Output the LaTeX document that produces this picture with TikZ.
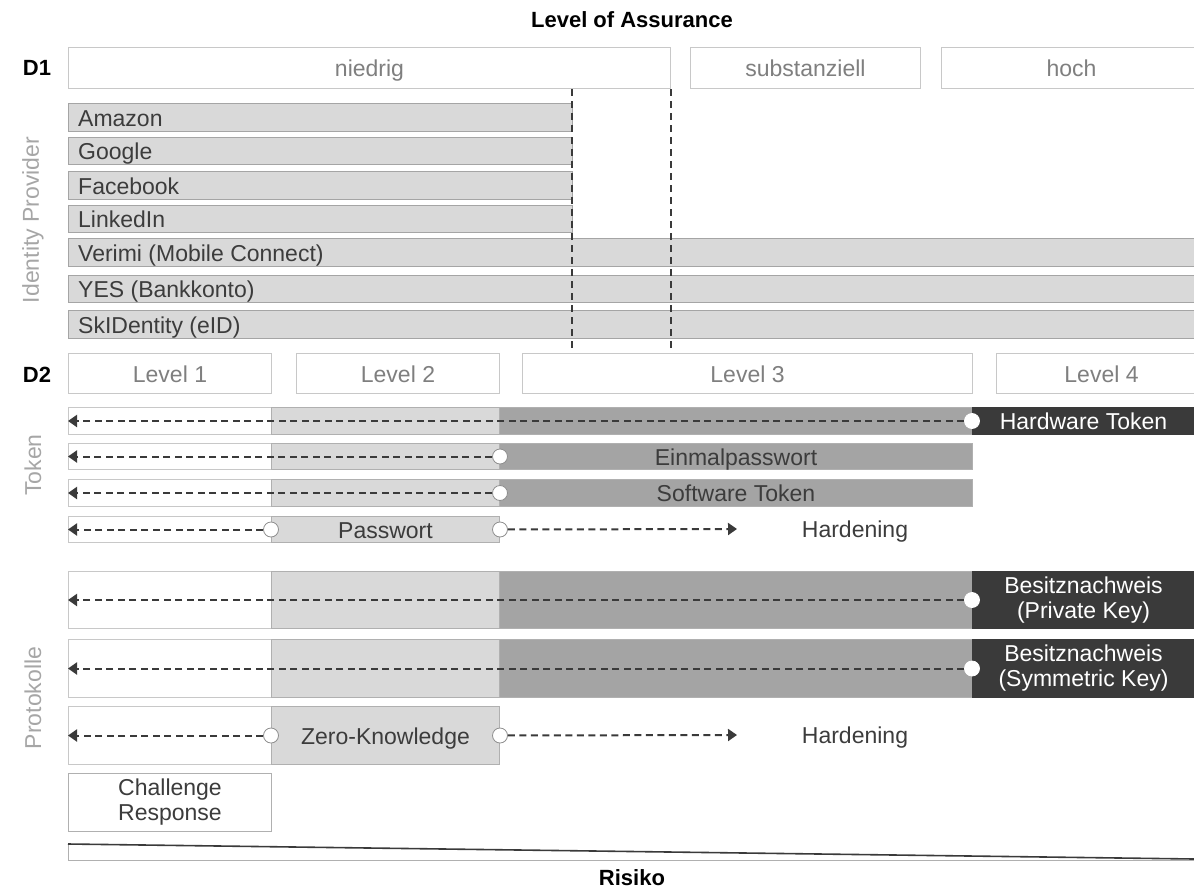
\documentclass[tikz,border=0pt]{standalone}
\usepackage{fontspec}
\setmainfont{Liberation Sans}
\usetikzlibrary{arrows.meta}
\definecolor{lg}{HTML}{D9D9D9}
\definecolor{mg}{HTML}{A4A4A4}
\definecolor{dg}{HTML}{3A3A3A}
\definecolor{bord}{HTML}{C8C8C8}
\definecolor{edgec}{HTML}{8E8E8E}
\definecolor{txtg}{HTML}{7F7F7F}
\definecolor{txtd}{HTML}{3C3C3C}
\definecolor{lab}{HTML}{A6A6A6}
\definecolor{dashc}{HTML}{3A3A3A}
\tikzset{
  x=1pt, y=-1pt,
  fnt/.style={font=\fontsize{23}{25}\selectfont, text height=17pt, text depth=0pt},
  bfnt/.style={font=\fontsize{22}{24}\selectfont\bfseries},
  hdr/.style={draw=bord, line width=1pt, fill=white, text=txtg, fnt, anchor=north west, inner sep=0, minimum height=41},
  idrow/.style={draw=edgec!80, line width=1pt, fill=lg, anchor=north west, inner sep=0, minimum height=28},
  idtext/.style={text=txtd, fnt, anchor=west, inner sep=0},
  seg/.style={draw=edgec!70, line width=1pt, anchor=north west, inner sep=0, text=txtd, fnt},
  segw/.style={seg, draw=bord, fill=white},
  segl/.style={seg, fill=lg},
  segm/.style={seg, fill=mg},
  segd/.style={seg, draw=dg, fill=dg, text=white, align=center, text height=, text depth=},
  dot/.style={circle, draw=edgec, fill=white, line width=0.8pt, minimum size=15, inner sep=0},
  darr/.style={dashc, line width=2pt, dash pattern=on 7pt off 4.5pt, -{Triangle[length=9pt,width=12pt]}},
  vdash/.style={dashc, line width=1.6pt, dash pattern=on 7pt off 5pt},
  sidelab/.style={rotate=90, text=lab, fnt, text height=, text depth=},
  plain/.style={text=txtd, fnt}
}
\begin{document}
\begin{tikzpicture}
\useasboundingbox (0,0) rectangle (1194,889);
% title
\node[bfnt] (title) at (632,20) {Level of Assurance};
% D1
\node[bfnt] (d1) at (37,68) {D1};
\node[hdr, minimum width=602] (niedrig) at (68,47) {niedrig};
\node[hdr, minimum width=230] (subst) at (690,47) {substanziell};
\node[hdr, minimum width=260] (hoch) at (941,47) {hoch};
% Identity provider
\node[sidelab] (idp) at (33,220) {Identity Provider};
\node[idrow, minimum width=504] (amazon) at (68,103) {};
\node[idtext] (amazonT) at ([xshift=10]amazon.west) {Amazon};
\node[idrow, minimum width=504, minimum height=27] (google) at (68,137) {};
\node[idtext] (googleT) at ([xshift=10]google.west) {Google};
\node[idrow, minimum width=504] (facebook) at (68,171) {};
\node[idtext] (facebookT) at ([xshift=10]facebook.west) {Facebook};
\node[idrow, minimum width=504, minimum height=27] (linkedin) at (68,205) {};
\node[idtext] (linkedinT) at ([xshift=10]linkedin.west) {LinkedIn};
\node[idrow, minimum width=1140] (verimi) at (68,238) {};
\node[idtext] (verimiT) at ([xshift=10]verimi.west) {Verimi (Mobile Connect)};
\node[idrow, minimum width=1140, minimum height=27] (yes) at (68,275) {};
\node[idtext] (yesT) at ([xshift=10]yes.west) {YES (Bankkonto)};
\node[idrow, minimum width=1140] (sk) at (68,310) {};
\node[idtext] (skT) at ([xshift=10]sk.west) {SkIDentity (eID)};
% dashed vertical lines
\coordinate (va1) at (572,89);
\coordinate (vb1) at (572,351);
\coordinate (va2) at (671,89);
\coordinate (vb2) at (671,351);
\draw[vdash] (va1) -- (vb1);
\draw[vdash] (va2) -- (vb2);
% D2
\node[bfnt] (d2) at (37,375) {D2};
\node[hdr, minimum width=203, minimum height=40] (l1) at (68,353) {Level 1};
\node[hdr, minimum width=203, minimum height=40] (l2) at (296,353) {Level 2};
\node[hdr, minimum width=450, minimum height=40] (l3) at (522,353) {Level 3};
\node[hdr, minimum width=210, minimum height=40] (l4) at (996,353) {Level 4};
% Token
\node[sidelab] (tok) at (33,465) {Token};
% row 1 Hardware Token
\node[segw, minimum width=203, minimum height=27] (t1a) at (68,407) {};
\node[segl, minimum width=228, minimum height=27] (t1b) at (271,407) {};
\node[segm, minimum width=473, minimum height=27] (t1c) at (499,407) {};
\node[segd, minimum width=230, minimum height=27, text height=17pt, text depth=0pt] (t1d) at (972,407) {\hspace*{-8pt}Hardware Token};
\node[dot, draw=white] (c1) at (t1d.west) {};
\coordinate (e1) at (t1a.west);
\draw[darr] (c1) -- (e1);
% row 2 Einmalpasswort
\node[segw, minimum width=203, minimum height=26] (t2a) at (68,443) {};
\node[segl, minimum width=228, minimum height=26] (t2b) at (271,443) {};
\node[segm, minimum width=473, minimum height=26] (t2c) at (499,443) {Einmalpasswort};
\node[dot] (c2) at (t2b.east) {};
\coordinate (e2) at (t2a.west);
\draw[darr] (c2) -- (e2);
% row 3 Software Token
\node[segw, minimum width=203, minimum height=27] (t3a) at (68,479) {};
\node[segl, minimum width=228, minimum height=27] (t3b) at (271,479) {};
\node[segm, minimum width=473, minimum height=27] (t3c) at (499,479) {Software Token};
\node[dot] (c3) at (t3b.east) {};
\coordinate (e3) at (t3a.west);
\draw[darr] (c3) -- (e3);
% row 4 Passwort
\node[segw, minimum width=203, minimum height=26] (t4a) at (68,516) {};
\node[segl, minimum width=228, minimum height=26] (t4b) at (271,516) {Passwort};
\node[dot] (c4a) at (t4b.west) {};
\node[dot] (c4b) at (t4b.east) {};
\coordinate (e4) at (t4a.west);
\coordinate (h4) at (737,529);
\draw[darr] (c4a) -- (e4);
\draw[darr] (c4b) -- (h4);
\node[plain] (hard1) at (855,529) {Hardening};
% Protokolle
\node[sidelab] (prot) at (33,698) {Protokolle};
% row 5
\node[segw, minimum width=203, minimum height=57] (p1a) at (68,571) {};
\node[segl, minimum width=228, minimum height=57] (p1b) at (271,571) {};
\node[segm, minimum width=473, minimum height=57] (p1c) at (499,571) {};
\node[segd, minimum width=230, minimum height=57] (p1d) at (972,571) {\hspace*{-8pt}Besitznachweis\\\hspace*{-8pt}(Private Key)};
\node[dot, draw=white] (c5) at (p1d.west) {};
\coordinate (e5) at (p1a.west);
\draw[darr] (c5) -- (e5);
% row 6
\node[segw, minimum width=203, minimum height=58] (p2a) at (68,639) {};
\node[segl, minimum width=228, minimum height=58] (p2b) at (271,639) {};
\node[segm, minimum width=473, minimum height=58] (p2c) at (499,639) {};
\node[segd, minimum width=230, minimum height=58] (p2d) at (972,639) {\hspace*{-8pt}Besitznachweis\\\hspace*{-8pt}(Symmetric Key)};
\node[dot, draw=white] (c6) at (p2d.west) {};
\coordinate (e6) at (p2a.west);
\draw[darr] (c6) -- (e6);
% row 7
\node[segw, minimum width=203, minimum height=58] (p3a) at (68,706) {};
\node[segl, minimum width=228, minimum height=58] (p3b) at (271,706) {Zero-Knowledge};
\node[dot] (c7a) at (p3b.west) {};
\node[dot] (c7b) at (p3b.east) {};
\coordinate (e7) at (p3a.west);
\coordinate (h7) at (737,735);
\draw[darr] (c7a) -- (e7);
\draw[darr] (c7b) -- (h7);
\node[plain] (hard2) at (855,735) {Hardening};
% row 8
\node[segw, draw=edgec!70, minimum width=203, minimum height=58, align=center, text height=, text depth=] (cr) at (68,773) {Challenge\\Response};
% Risiko wedge
\fill[white] (68,844) -- (1194,858) -- (1194,860) -- (68,860) -- cycle;
\draw[edgec!70, line width=1pt] (68,844) -- (68,860) -- (1194,860);
\draw[dashc, line width=1.6pt] (68,844) -- (1194,859);
\node[bfnt] (risiko) at (632,878) {Risiko};
\end{tikzpicture}
\end{document}
